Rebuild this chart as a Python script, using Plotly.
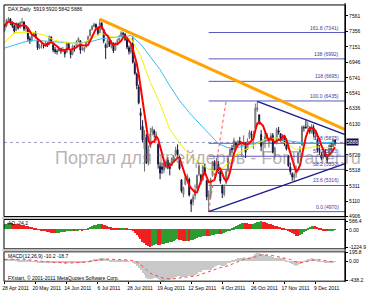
import plotly.graph_objects as go
import pandas as pd

# ---------------- data ----------------
tick_dates = ["28 Apr 2011", "20 May 2011", "14 Jun 2011", "6 Jul 2011", "28 Jul 2011",
              "19 Aug 2011", "12 Sep 2011", "4 Oct 2011", "26 Oct 2011", "17 Nov 2011", "9 Dec 2011"]
tick_bars = [0, 16, 32, 48, 64, 80, 96, 112, 128, 144, 160]

opens = [7370,7425,7515,7520,7465,7430,7370,7455,7405,7475,
         7480,7390,7395,7260,7235,7305,7330,7250,7140,7165,
         7170,7170,7200,7190,7280,7180,7115,7090,7095,7125,
         7100,7110,7080,7195,7100,7060,7150,7160,7225,7230,
         7120,7110,7150,7225,7300,7380,7420,7450,7400,7340,
         7460,7380,7180,7150,7230,7150,7200,7110,7210,7240,
         7290,7330,7320,7250,7140,7080,7200,6930,6790,6620,
         6280,6100,5800,5950,5640,5830,6020,6040,5980,5860,
         5570,5560,5520,5580,5650,5560,5580,5650,5720,5790,
         5690,5390,5200,5330,5420,5400,5120,5100,5180,5280,
         5460,5450,5390,5560,5380,5130,5180,5450,5620,5520,
         5600,5520,5310,5200,5350,5510,5720,5810,5800,5880,
         5870,5900,5840,5880,5870,5800,5950,6000,5950,6080,
         6320,6250,5990,5860,5900,5980,5920,5950,5980,5700,
         5870,6040,6000,5930,5970,5860,5700,5560,5470,5420,
         5480,5620,5760,5850,6080,6090,6100,6070,6030,6080,
         5960,5920,5780,5720,5690,5760,5700,5700,5840,5830,
         5919]
highs = [7450,7520,7545,7530,7490,7440,7480,7470,7490,7535,
         7490,7440,7410,7290,7320,7350,7360,7260,7190,7210,
         7200,7230,7210,7300,7290,7190,7150,7120,7160,7140,
         7150,7120,7220,7210,7120,7180,7170,7240,7280,7240,
         7160,7150,7230,7300,7390,7440,7470,7460,7420,7520,
         7480,7390,7200,7260,7250,7240,7210,7210,7260,7310,
         7360,7350,7330,7260,7170,7190,7290,6960,6810,6650,
         6340,6180,6050,6000,5850,6080,6100,6060,6030,5880,
         5620,5620,5630,5660,5690,5620,5690,5720,5830,5860,
         5710,5400,5300,5450,5470,5420,5140,5200,5330,5460,
         5620,5470,5590,5600,5390,5250,5420,5640,5650,5680,
         5640,5540,5330,5330,5530,5700,5810,5850,5950,5900,
         5920,5960,5900,5980,5890,5940,6050,6040,6040,6400,
         6430,6260,6050,5920,6020,6010,5960,6010,6010,5830,
         6080,6090,6010,6000,5980,5900,5720,5620,5490,5490,
         5580,5760,5840,6110,6110,6180,6160,6100,6130,6120,
         6050,5940,5850,5760,5770,5800,5730,5860,5880,5940,
         5920]
lows = [7350,7410,7480,7440,7400,7330,7360,7380,7395,7450,
        7360,7350,7230,7190,7220,7280,7260,7110,7120,7130,
        7130,7160,7150,7180,7200,7080,7060,7050,7090,7060,
        7090,7010,7070,7110,7000,7040,7090,7150,7210,7060,
        7100,7080,7140,7210,7290,7370,7410,7380,7300,7330,
        7380,7200,6990,7140,7150,7130,7070,7100,7180,7230,
        7280,7280,7230,7120,7050,7060,6930,6780,6590,6390,
        6050,5890,5500,5600,5580,5810,5980,5950,5900,5540,
        5400,5470,5480,5540,5530,5450,5570,5620,5700,5700,
        5520,5220,5160,5320,5380,5170,4965,5050,5130,5260,
        5440,5330,5370,5450,5120,4970,5150,5430,5510,5500,
        5470,5340,5150,5170,5330,5490,5700,5740,5780,5800,
        5840,5870,5700,5850,5680,5790,5930,5920,5800,6060,
        6290,6120,5770,5710,5810,5900,5820,5900,5740,5660,
        5860,5990,5900,5890,5840,5780,5560,5460,5380,5370,
        5420,5600,5730,5840,6030,6070,6060,6000,6000,5960,
        5920,5760,5720,5650,5670,5690,5620,5690,5780,5820,
        5842]
closes = [7420,7510,7525,7470,7430,7360,7460,7400,7470,7480,
          7390,7400,7260,7230,7300,7330,7280,7140,7160,7170,
          7165,7200,7180,7290,7220,7110,7090,7090,7130,7100,
          7120,7060,7200,7130,7050,7165,7150,7220,7260,7110,
          7120,7140,7220,7290,7375,7420,7450,7410,7330,7470,
          7420,7230,7140,7240,7180,7220,7100,7200,7230,7290,
          7340,7320,7250,7150,7090,7160,6950,6800,6640,6410,
          6240,5920,5990,5610,5800,6000,6070,5995,5990,5600,
          5480,5530,5610,5630,5560,5540,5670,5695,5785,5730,
          5540,5245,5285,5425,5440,5190,5070,5165,5255,5450,
          5575,5375,5570,5495,5165,5195,5395,5630,5570,5640,
          5500,5375,5215,5300,5500,5675,5795,5790,5915,5850,
          5895,5890,5855,5890,5755,5910,6020,5990,5985,6335,
          6345,6140,5835,5880,5960,5965,5930,5975,5755,5810,
          6055,6020,5935,5980,5870,5800,5580,5500,5430,5465,
          5490,5745,5800,6090,6080,6080,6105,6030,6095,5995,
          5985,5785,5775,5675,5730,5700,5655,5845,5810,5920,
          5886]

ma_bars = list(range(0, 171, 5))
yellow_ma = [7210,7340,7345,7340,7310,7245,7215,7200,7200,7270,7330,7285,7280,7265,
             7030,6680,6400,6060,5880,5720,5620,5530,5500,5610,5745,5810,5880,5935,
             5945,5870,5790,5810,5830,5815,5825]
blue_ma = [7135,7180,7215,7240,7230,7215,7205,7200,7210,7225,7260,7275,7285,7300,
           7190,7020,6850,6635,6440,6280,6140,6010,5870,5815,5820,5850,5885,5935,
           5935,5910,5890,5878,5878,5885,5890]

ao = [340,400,460,470,430,400,370,350,330,310,
      290,260,220,180,140,100,60,20,-30,-70,
      -110,-150,-180,-210,-230,-250,-260,-255,-240,-220,
      -200,-180,-150,-120,-100,-90,-95,-80,-60,-40,
      -50,-30,20,80,150,220,280,330,350,370,
      360,330,280,230,180,130,90,60,40,30,
      40,55,60,50,20,-20,-110,-230,-380,-530,
      -690,-850,-980,-1100,-1180,-1224.9,-1150,-1080,-1030,-1060,
      -1090,-1050,-990,-960,-930,-900,-860,-800,-740,-700,
      -720,-760,-790,-800,-780,-790,-770,-720,-670,-620,
      -560,-520,-480,-460,-480,-500,-470,-420,-380,-350,
      -330,-350,-340,-290,-220,-140,-60,30,130,230,
      320,400,450,470,440,410,400,380,400,450,
      500,540,586.4,520,480,450,400,350,300,250,
      220,190,150,110,70,20,-60,-160,-260,-360,
      -440,-480,-420,-340,-220,-80,60,170,240,260,
      230,180,110,30,-50,-110,-140,-120,-90,-60,
      -24.2]

macd_main = [45,50,55,55,52,45,45,40,40,40,
             35,30,20,10,5,2,-3,-15,-22,-28,
             -32,-33,-35,-28,-28,-35,-40,-45,-46,-48,
             -47,-50,-42,-40,-45,-38,-33,-24,-15,-18,
             -20,-18,-10,2,20,35,50,58,58,70,
             75,65,50,48,40,36,22,20,20,25,
             32,35,32,20,5,0,-25,-55,-95,-145,
             -195,-255,-300,-370,-400,-400,-390,-385,-380,-400,
             -425,-438.2,-435,-425,-420,-415,-400,-380,-355,-335,
             -335,-350,-355,-345,-335,-335,-340,-330,-315,-285,
             -250,-235,-205,-185,-195,-200,-185,-150,-125,-100,
             -90,-90,-100,-95,-75,-45,-15,10,40,55,
             70,80,85,90,80,85,100,105,110,160,
             190,195.8,175,155,145,135,120,112,90,75,
             80,80,70,65,50,30,-5,-35,-65,-85,
             -95,-80,-62,-25,5,28,48,55,65,62,
             58,40,25,5,-5,-15,-35,-40,-42,-35,
             -10.2]
macd_signal = [40,42,45,47,48,47,47,45,44,43,
               42,39,36,30,25,21,16,10,3,-3,
               -9,-14,-18,-20,-22,-24,-27,-31,-34,-37,
               -39,-41,-41,-41,-42,-41,-39,-36,-32,-29,
               -27,-26,-22,-18,-10,-1,9,19,27,35,
               43,48,48,48,47,44,40,36,33,31,
               31,32,32,30,25,20,11,-2,-21,-46,
               -76,-112,-149,-193,-235,-268,-292,-311,-325,-340,
               -357,-373,-386,-393,-399,-402,-402,-397,-389,-378,
               -369,-366,-363,-360,-355,-351,-349,-345,-339,-328,
               -313,-297,-279,-260,-247,-238,-227,-212,-194,-175,
               -158,-145,-136,-128,-117,-103,-85,-66,-45,-25,
               -6,11,26,39,47,55,64,72,80,96,
               115,131,140,143,143,142,137,132,124,114,
               107,102,95,89,81,71,56,38,17,-3,
               -22,-33,-39,-36,-28,-17,-4,8,19,28,
               34,35,33,28,21,14,4,-5,-12,-17,
               -18.7]

fib_ratios = ["161.8", "138", "118", "100.0", "61.8", "50.0", "38.2", "23.6", "0.0"]
fib_prices = [7341, 6992, 6695, 6435, 5875, 5703, 5530, 5316, 4970]
fib_start_bar = 105

price_ticks = [7561, 7356, 7151, 6946, 6741, 6541, 6336, 6130, 5720, 5518, 5311, 5110, 4906]

orange_line = {"bars": [49, 175.2], "prices": [7520, 6055]}
upper_tri = {"bars": [130, 175.2], "prices": [6430, 5990]}
lower_tri = {"bars": [105, 175.2], "prices": [4970, 5605]}
fib_anchor = {"bars": [105, 114], "prices": [4970, 6435]}

last_ohlc = (5919, 5920, 5842, 5886)
ao_last = -24.2

# ---------------- figure ----------------
W, H = 366, 293
FONT = "Liberation Sans, Arial, sans-serif"


def px(x):
    return x / W


def py(y):
    return 1 - y / H


N = len(closes)
bars = list(range(N))
X0, X1 = 2, 345
XR = [-0.3, 175.2]

red_ma = pd.Series(closes).rolling(5, min_periods=1).mean().tolist()

fig = go.Figure()

fig.add_trace(go.Candlestick(
    x=bars, open=opens, high=highs, low=lows, close=closes,
    increasing=dict(line=dict(color="#707070", width=1), fillcolor="#dadada"),
    decreasing=dict(line=dict(color="#16163c", width=1), fillcolor="#16163c"),
    whiskerwidth=0, hoverinfo="skip", showlegend=False, xaxis="x", yaxis="y"))

fig.add_trace(go.Scatter(x=ma_bars, y=blue_ma, mode="lines",
                         line=dict(color="#3cbcf0", width=1), hoverinfo="skip",
                         showlegend=False, xaxis="x", yaxis="y"))
fig.add_trace(go.Scatter(x=ma_bars, y=yellow_ma, mode="lines",
                         line=dict(color="#f4f000", width=1), hoverinfo="skip",
                         showlegend=False, xaxis="x", yaxis="y"))
fig.add_trace(go.Scatter(x=bars, y=red_ma, mode="lines",
                         line=dict(color="#ff0000", width=2), hoverinfo="skip",
                         showlegend=False, xaxis="x", yaxis="y"))

fig.add_trace(go.Scatter(x=fib_anchor["bars"], y=fib_anchor["prices"], mode="lines",
                         line=dict(color="#ff5050", width=1, dash="dot"), hoverinfo="skip",
                         showlegend=False, xaxis="x", yaxis="y"))
for tl, col, wd in [(orange_line, "#ffa300", 3), (upper_tri, "#1c1c90", 1.5), (lower_tri, "#1c1c90", 1.5)]:
    fig.add_trace(go.Scatter(x=tl["bars"], y=tl["prices"], mode="lines",
                             line=dict(color=col, width=wd), hoverinfo="skip",
                             showlegend=False, xaxis="x", yaxis="y"))

# AO histogram
ao_colors = ["#2f9a2f" if (i == 0 or ao[i] >= ao[i - 1]) else "#f02020" for i in range(N)]
fig.add_trace(go.Bar(x=bars, y=ao, marker=dict(color=ao_colors, line=dict(width=0)),
                     width=0.7, hoverinfo="skip", showlegend=False, xaxis="x2", yaxis="y2"))

# MACD
fig.add_trace(go.Bar(x=bars, y=macd_main, marker=dict(color="#c8c8c8", line=dict(width=0)),
                     width=0.5, hoverinfo="skip", showlegend=False, xaxis="x3", yaxis="y3"))
fig.add_trace(go.Scatter(x=bars, y=macd_signal, mode="lines",
                         line=dict(color="#ff4040", width=1, dash="dot"), hoverinfo="skip",
                         showlegend=False, xaxis="x3", yaxis="y3"))

shapes = []
# fib levels
for p in fib_prices:
    shapes.append(dict(type="line", xref="x", yref="y", x0=fib_start_bar, x1=XR[1], y0=p, y1=p,
                       line=dict(color="#5858c0", width=1), layer="below"))
# bid line
shapes.append(dict(type="line", xref="paper", yref="y", x0=px(X0), x1=px(X1),
                   y0=last_ohlc[3], y1=last_ohlc[3],
                   line=dict(color="#9aa0c0", width=1, dash="dot"), layer="below"))
# panel frames & separators
for (ya, yb) in [(2, 218), (221, 251), (254, 284)]:
    shapes.append(dict(type="rect", xref="paper", yref="paper", x0=px(X0), x1=px(X1),
                       y0=py(yb), y1=py(ya), line=dict(color="#000000", width=1)))
for (ya, yb) in [(218.5, 220.5), (251.5, 253.5)]:
    shapes.append(dict(type="rect", xref="paper", yref="paper", x0=px(0), x1=px(X1),
                       y0=py(yb), y1=py(ya), line=dict(width=0), fillcolor="#c8c8c8"))
shapes.append(dict(type="line", xref="paper", yref="paper", x0=px(X1), x1=px(X1),
                   y0=py(285), y1=py(0), line=dict(color="#000000", width=1)))

ann = []
small = dict(family=FONT, size=5, color="#000000")
ann.append(dict(x=px(207), y=py(158), xref="paper", yref="paper", xanchor="center", yanchor="middle",
                text="Портал для трейдеров - ForTrader.ru", showarrow=False,
                font=dict(family=FONT, size=18, color="rgba(120,100,100,0.5)")))
ann.append(dict(x=px(4), y=py(6), xref="paper", yref="paper", xanchor="left", yanchor="middle",
                text="DAX,Daily  %d %d %d %d" % last_ohlc, showarrow=False, font=small))
ann.append(dict(x=px(4), y=py(225), xref="paper", yref="paper", xanchor="left", yanchor="middle",
                text="AO %.1f" % ao_last, showarrow=False, font=small))
ann.append(dict(x=px(4), y=py(258), xref="paper", yref="paper", xanchor="left", yanchor="middle",
                text="MACD(12,26,9) %.1f %.1f" % (macd_main[-1], macd_signal[-1]),
                showarrow=False, font=small))
ann.append(dict(x=px(4), y=py(280.5), xref="paper", yref="paper", xanchor="left", yanchor="middle",
                text="FXstart, © 2001-2011 MetaQuotes Software Corp.", showarrow=False, font=small))
for r, p in zip(fib_ratios, fib_prices):
    ann.append(dict(x=px(341), y=p, xref="paper", yref="y", xanchor="right", yanchor="bottom",
                    text="%s (%d)" % (r, p), showarrow=False,
                    font=dict(family=FONT, size=5, color="#3a3aa0")))
ann.append(dict(x=px(346), y=last_ohlc[3], xref="paper", yref="y", xanchor="left", yanchor="middle",
                text="%d" % last_ohlc[3], showarrow=False, bgcolor="#0c0c40", borderpad=0,
                font=dict(family=FONT, size=5, color="#ffffff")))

axis_common = dict(showgrid=False, zeroline=False, fixedrange=True)
yaxis_common = dict(side="right", ticks="outside", ticklen=2, tickcolor="#000000",
                    tickfont=small, showline=True, linecolor="#000000", linewidth=1,
                    showgrid=False, zeroline=False)

fig.update_layout(
    width=W, height=H, margin=dict(l=0, r=0, t=0, b=0),
    paper_bgcolor="white", plot_bgcolor="white", showlegend=False, bargap=0,
    font=dict(family=FONT, size=5),
    xaxis=dict(domain=[px(X0), px(X1)], range=XR, anchor="y", showticklabels=False,
               rangeslider=dict(visible=False), **axis_common),
    yaxis=dict(domain=[py(218), py(2)], range=[4905, 7706], anchor="x",
               tickvals=price_ticks, ticktext=[str(t) for t in price_ticks], **yaxis_common),
    xaxis2=dict(domain=[px(X0), px(X1)], range=XR, anchor="y2", matches="x",
                showticklabels=False, **axis_common),
    yaxis2=dict(domain=[py(251), py(221)], range=[-1330, 720], anchor="x2",
                tickvals=[586.4, 0, -1224.9], ticktext=["586.4", "0.00", "-1224.9"], **yaxis_common),
    xaxis3=dict(domain=[px(X0), px(X1)], range=XR, anchor="y3", matches="x",
                tickvals=tick_bars, ticktext=tick_dates, tickfont=small, ticks="outside",
                ticklen=2, tickcolor="#000000", ticklabelshift=11, **axis_common),
    yaxis3=dict(domain=[py(284), py(254)], range=[-450, 210], anchor="x3",
                tickvals=[195.8, 0, -438.2], ticktext=["195.8", "0.00", "-438.2"], **yaxis_common),
    shapes=shapes, annotations=ann,
)

fig.write_html("out.html")
